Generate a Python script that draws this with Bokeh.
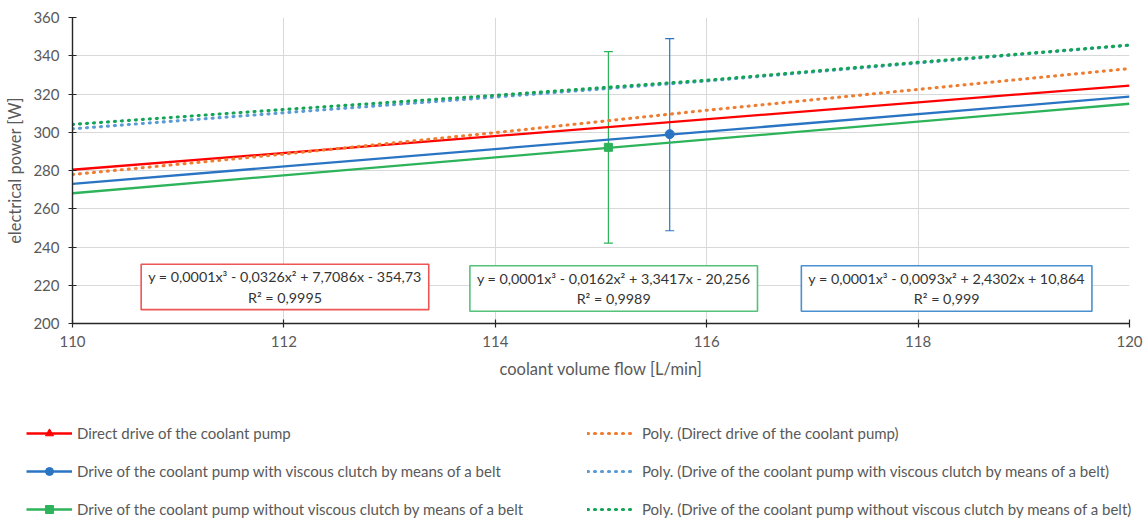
from bokeh.plotting import figure
from bokeh.layouts import column
from bokeh.models import (Range1d, Label, Legend, LegendItem, Whisker, ColumnDataSource,
                          TeeHead, FixedTicker)
from bokeh.embed import file_html
from bokeh.resources import INLINE

# ---------------- data ----------------
x_ticks = [110, 112, 114, 116, 118, 120]
y_ticks = [200, 220, 240, 260, 280, 300, 320, 340, 360]

# measured series (straight lines across the visible range)
red_x = [110, 120]
red_y = [280.4, 324.4]
blue_x = [110, 120]
blue_y = [273.0, 318.6]
green_x = [110, 120]
green_y = [268.1, 314.9]

# visible measurement points with error bars
blue_pt_x, blue_pt_y = [115.65], [299.0]
blue_err_lo, blue_err_hi = [248.5], [349.0]
green_pt_x, green_pt_y = [115.07], [292.1]
green_err_lo, green_err_hi = [242.0], [342.2]

# polynomial trend lines (sampled)
poly_x = [110, 112, 114, 116, 118, 120]
poly_red = [277.9, 288.6, 299.8, 311.5, 322.4, 333.3]
poly_blue = [301.8, 310.2, 318.4, 326.8, 336.2, 345.5]
poly_green = [304.1, 311.9, 319.3, 327.2, 336.6, 345.6]

legend_left = ["Direct drive of the coolant pump",
               "Drive of the coolant pump with viscous clutch by means of a belt",
               "Drive of the coolant pump without viscous clutch by means of a belt"]
legend_right = ["Poly. (Direct drive of the coolant pump)",
                "Poly. (Drive of the coolant pump with viscous clutch by means of a belt)",
                "Poly. (Drive of the coolant pump without viscous clutch by means of a belt)"]

eq_red = "y = 0,0001x³ - 0,0326x² + 7,7086x - 354,73\nR² = 0,9995"
eq_green = "y = 0,0001x³ - 0,0162x² + 3,3417x - 20,256\nR² = 0,9989"
eq_blue = "y = 0,0001x³ - 0,0093x² + 2,4302x + 10,864\nR² = 0,999"
eq_pos = {"red": (112.01, 219.1), "green": (115.12, 218.3), "blue": (118.27, 218.3)}

# ---------------- style ----------------
FONT = "Lato"
RED = "#ff0000"
BLUE = "#2a74c4"
GREEN = "#2db35a"
ORANGE = "#ee7d31"
LBLUE = "#5b9bd5"
DGREEN = "#13a456"
TXT = "#595959"
DASH = "1 6"
DOT_W = 3.1

p = figure(width=1146, height=390, x_range=Range1d(110, 120), y_range=Range1d(200, 360),
           output_backend="svg", toolbar_location=None,
           min_border_left=72, min_border_right=17, min_border_top=17, min_border_bottom=67)
p.outline_line_color = None
p.frame_align = False

p.xaxis.ticker = FixedTicker(ticks=x_ticks)
p.yaxis.ticker = FixedTicker(ticks=y_ticks)
for ax in (p.xaxis[0], p.yaxis[0]):
    ax.axis_line_color = "#262626"
    ax.axis_line_width = 1.4
    ax.major_tick_line_color = "#262626"
    ax.major_tick_line_width = 1.2
    ax.major_tick_in = 4
    ax.major_tick_out = 4
    ax.minor_tick_line_color = None
    ax.major_label_text_font = FONT
    ax.major_label_text_font_size = "15px"
    ax.major_label_text_color = TXT
    ax.axis_label_text_font = FONT
    ax.axis_label_text_font_size = "16.5px"
    ax.axis_label_text_font_style = "normal"
    ax.axis_label_text_color = TXT
p.xaxis.axis_label = "coolant volume flow [L/min]"
p.yaxis.axis_label = "electrical power [W]"
p.xaxis.major_label_standoff = 8
p.yaxis.major_label_standoff = 9
p.xaxis.axis_label_standoff = 9
p.yaxis.axis_label_standoff = 5

p.xgrid.grid_line_color = "#d9d9d9"
p.ygrid.grid_line_color = "#d9d9d9"

# solid lines
p.line(red_x, red_y, line_color=RED, line_width=2.3)
p.line(blue_x, blue_y, line_color=BLUE, line_width=2.3)
p.line(green_x, green_y, line_color=GREEN, line_width=2.3)

# error bars
src_b = ColumnDataSource(dict(x=blue_pt_x, lo=blue_err_lo, hi=blue_err_hi))
src_g = ColumnDataSource(dict(x=green_pt_x, lo=green_err_lo, hi=green_err_hi))
for src, col in ((src_g, GREEN), (src_b, BLUE)):
    w = Whisker(source=src, base="x", lower="lo", upper="hi", dimension="height",
                line_color=col, line_width=1.2,
                upper_head=TeeHead(size=9, line_color=col, line_width=1.2),
                lower_head=TeeHead(size=9, line_color=col, line_width=1.2))
    p.add_layout(w)

# markers
p.scatter(blue_pt_x, blue_pt_y, marker="circle", size=9, color=BLUE)
p.scatter(green_pt_x, green_pt_y, marker="square", size=8, color=GREEN)

# trend lines (dotted)
for ys, col in ((poly_red, ORANGE), (poly_blue, LBLUE), (poly_green, DGREEN)):
    p.line(poly_x, ys, line_color=col, line_width=DOT_W, line_dash=DASH, line_cap="round")

# equation boxes
for key, txt, col in (("red", eq_red, "#ee5555"), ("green", eq_green, "#55c27a"),
                      ("blue", eq_blue, "#4a90d0")):
    x, y = eq_pos[key]
    lab = Label(x=x, y=y, text=txt, text_align="center", text_baseline="middle",
                text_font=FONT, text_font_size="14.3px", text_color="#333333",
                text_line_height=1.2,
                border_line_color=col, border_line_width=1.6,
                background_fill_color="white", background_fill_alpha=1.0,
                padding=(7, 7, 4, 4))
    p.add_layout(lab)

# ---------------- legend panel ----------------
# The series are re-drawn here outside this panel's view, only to feed the legend glyphs.
lf = figure(width=1146, height=130, x_range=Range1d(0, 1), y_range=Range1d(0, 1),
            output_backend="svg", toolbar_location=None,
            x_axis_type=None, y_axis_type=None,
            min_border_left=0, min_border_right=0, min_border_top=0, min_border_bottom=0)
lf.outline_line_color = None
lf.frame_align = False
lf.xgrid.visible = False
lf.ygrid.visible = False

lr_red = lf.line(red_x, red_y, line_color=RED, line_width=2.3)
lm_red = lf.scatter(red_x, red_y, marker="triangle", size=10, color=RED)
lr_blue = lf.line(blue_x, blue_y, line_color=BLUE, line_width=2.3)
lm_blue = lf.scatter(blue_pt_x, blue_pt_y, marker="circle", size=9, color=BLUE)
lr_green = lf.line(green_x, green_y, line_color=GREEN, line_width=2.3)
lm_green = lf.scatter(green_pt_x, green_pt_y, marker="square", size=8, color=GREEN)
lt = [lf.line(poly_x, ys, line_color=c, line_width=DOT_W, line_dash=DASH, line_cap="round")
      for ys, c in ((poly_red, ORANGE), (poly_blue, LBLUE), (poly_green, DGREEN))]

common = dict(orientation="vertical", border_line_color=None, background_fill_alpha=0,
              padding=0, margin=0, label_text_font=FONT, label_text_font_size="15px",
              label_text_color=TXT, label_height=20, glyph_height=20, spacing=18)
leg1 = Legend(items=[LegendItem(label=legend_left[0], renderers=[lr_red, lm_red]),
                     LegendItem(label=legend_left[1], renderers=[lr_blue, lm_blue]),
                     LegendItem(label=legend_left[2], renderers=[lr_green, lm_green])],
              location=(26, 1), glyph_width=46, label_standoff=5, **common)
leg2 = Legend(items=[LegendItem(label=legend_right[0], renderers=[lt[0]]),
                     LegendItem(label=legend_right[1], renderers=[lt[1]]),
                     LegendItem(label=legend_right[2], renderers=[lt[2]])],
              location=(587, 1), glyph_width=45, label_standoff=10, **common)
lf.add_layout(leg1)
lf.add_layout(leg2)

open("out.html", "w").write(file_html(column(p, lf, spacing=0), INLINE))
